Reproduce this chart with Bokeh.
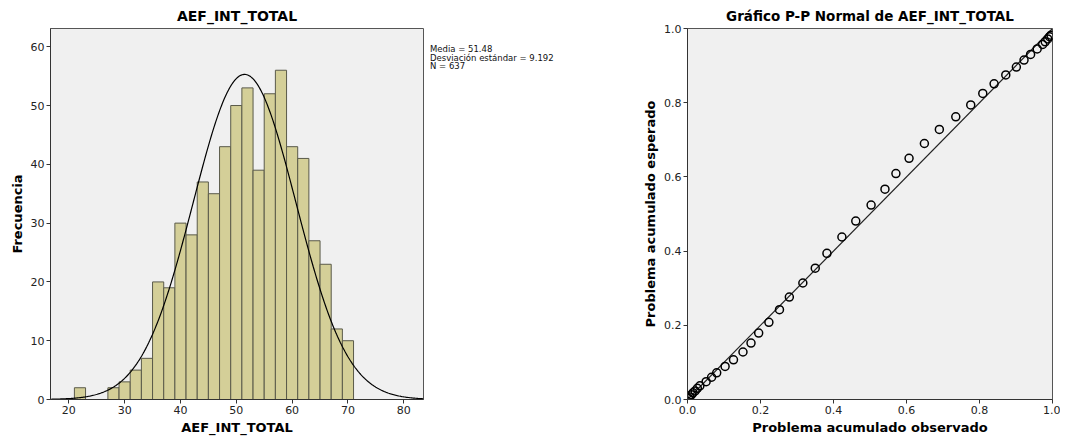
import numpy as np
from bokeh.plotting import figure
from bokeh.layouts import row
from bokeh.models import Range1d, FixedTicker, NumeralTickFormatter, Div
from bokeh.embed import file_html
from bokeh.resources import INLINE

# ---------------- data ----------------
bin_left = [21, 23, 25, 27, 29, 31, 33, 35, 37, 39, 41, 43, 45, 47, 49,
            51, 53, 55, 57, 59, 61, 63, 65, 67, 69]
counts = [2, 0, 0, 2, 3, 5, 7, 20, 19, 30, 28, 37, 35, 43, 50,
          53, 39, 52, 56, 43, 41, 27, 23, 12, 10]
bin_width = 2
media = 51.48
desviacion = 9.192
n_total = 637

pp_observed = [0.003, 0.006, 0.011, 0.015, 0.021, 0.027, 0.034, 0.051, 0.066,
               0.080, 0.103, 0.126, 0.152, 0.174, 0.195, 0.223, 0.252, 0.279,
               0.316, 0.350, 0.382, 0.423, 0.461, 0.503, 0.541, 0.571, 0.607,
               0.649, 0.690, 0.735, 0.776, 0.809, 0.840, 0.872, 0.901, 0.922,
               0.940, 0.958, 0.973, 0.980, 0.987, 0.992, 0.996]
pp_expected = [0.003, 0.007, 0.013, 0.018, 0.023, 0.030, 0.037, 0.048, 0.060,
               0.072, 0.089, 0.107, 0.128, 0.152, 0.179, 0.208, 0.242, 0.276,
               0.314, 0.354, 0.394, 0.438, 0.481, 0.524, 0.567, 0.609, 0.650,
               0.690, 0.728, 0.762, 0.794, 0.825, 0.851, 0.875, 0.896, 0.915,
               0.930, 0.945, 0.957, 0.964, 0.972, 0.978, 0.982]

hist_x_ticks = [20, 30, 40, 50, 60, 70, 80]
hist_y_ticks = [0, 10, 20, 30, 40, 50, 60]
pp_ticks = [0.0, 0.2, 0.4, 0.6, 0.8, 1.0]

# ---------------- style ----------------
FONT = "DejaVu Sans"
BG = "#F0F0F0"
BAR = "#D4CF98"
BAR_LINE = "#5A5A4A"


def style(p, title_size="13px"):
    p.background_fill_color = BG
    p.border_fill_color = "white"
    p.outline_line_color = "#555555"
    p.outline_line_width = 1
    p.xgrid.visible = False
    p.ygrid.visible = False
    p.title.text_font = FONT
    p.title.text_font_size = title_size
    p.title.text_font_style = "bold"
    p.title.align = "center"
    p.title.text_color = "black"
    p.title.offset = 0
    for ax in (p.xaxis[0], p.yaxis[0]):
        ax.axis_line_color = "#333333"
        ax.major_tick_line_color = "#333333"
        ax.major_tick_out = 4
        ax.major_tick_in = 0
        ax.minor_tick_line_color = None
        ax.major_label_text_font = FONT
        ax.major_label_text_font_size = "11px"
        ax.major_label_text_color = "#222222"
        ax.major_label_standoff = 2
        ax.axis_label_text_font = FONT
        ax.axis_label_text_font_size = "13px"
        ax.axis_label_text_font_style = "bold"
        ax.axis_label_text_color = "black"
        ax.axis_label_standoff = 3


# ---------------- histogram ----------------
x0, x1 = 16.72, 83.53
p1 = figure(frame_width=373, frame_height=371, min_border_left=50,
            min_border_right=5, min_border_top=28, min_border_bottom=36,
            x_range=Range1d(x0, x1), y_range=Range1d(0, 63.1),
            title="AEF_INT_TOTAL", output_backend="svg", toolbar_location=None,
            x_axis_label="AEF_INT_TOTAL", y_axis_label="Frecuencia")
style(p1, "14px")
lefts = [l for l, c in zip(bin_left, counts) if c > 0]
tops = [c for c in counts if c > 0]
rights = [l + bin_width for l in lefts]
p1.quad(left=lefts, right=rights, top=tops, bottom=0,
        fill_color=BAR, line_color=BAR_LINE, line_width=1)

xs = np.linspace(x0, x1, 400)
ys = n_total * bin_width * np.exp(-0.5 * ((xs - media) / desviacion) ** 2) / (desviacion * np.sqrt(2 * np.pi))
p1.line(xs, ys, line_color="black", line_width=1.2)

p1.xaxis.ticker = FixedTicker(ticks=hist_x_ticks)
p1.yaxis.ticker = FixedTicker(ticks=hist_y_ticks)

stats = [f"Media = {media:.2f}", f"Desviación estándar = {desviacion:.3f}", f"N = {n_total}"]
div = Div(text="<br>".join(stats), width=187, height=435, margin=(0, 0, 0, 0),
          styles={"font-family": FONT, "font-size": "8.5px", "line-height": "8.5px",
                  "color": "#111111", "padding-top": "45px", "padding-left": "2px",
                  "white-space": "nowrap"})

# ---------------- P-P plot ----------------
p2 = figure(frame_width=365, frame_height=371, min_border_left=72,
            min_border_right=8, min_border_top=28, min_border_bottom=36,
            x_range=Range1d(0, 1), y_range=Range1d(0, 1),
            title="Gráfico P-P Normal de AEF_INT_TOTAL", output_backend="svg",
            toolbar_location=None,
            x_axis_label="Problema acumulado observado",
            y_axis_label="Problema acumulado esperado")
style(p2, "13.5px")
p2.line([pp_ticks[0], pp_ticks[-1]], [pp_ticks[0], pp_ticks[-1]],
        line_color="#222222", line_width=1.2)
p2.scatter(pp_observed, pp_expected, marker="circle", size=8,
           fill_color=None, line_color="black", line_width=1.5)
p2.xaxis.ticker = FixedTicker(ticks=pp_ticks)
p2.yaxis.ticker = FixedTicker(ticks=pp_ticks)
p2.xaxis.formatter = NumeralTickFormatter(format="0.0")
p2.yaxis.formatter = NumeralTickFormatter(format="0.0")

layout = row(p1, div, p2, spacing=0)
open("out.html", "w").write(file_html(layout, INLINE))
